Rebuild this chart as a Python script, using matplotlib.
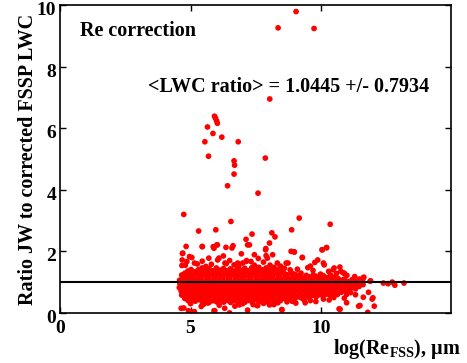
import matplotlib
matplotlib.use("Agg")
import matplotlib.pyplot as plt
import matplotlib.transforms as mtransforms
import numpy as np

plt.rcParams["font.family"] = ["Liberation Serif", "DejaVu Serif"]
plt.rcParams["font.weight"] = "bold"
plt.rcParams["mathtext.fontset"] = "custom"
plt.rcParams["mathtext.rm"] = "Liberation Serif:bold"
plt.rcParams["mathtext.it"] = "Liberation Serif:italic:bold"

# ---------------- data: log(Re_FSS) vs LWC ratio ----------------
# dense band, left part (x ~ 4.5 - 6.5)
core_left_x = [
    4.57, 4.59, 4.58,
    4.66, 4.64, 4.67, 4.65, 4.68, 4.66,
    4.78, 4.80, 4.77, 4.79, 4.76, 4.81, 4.78,
    4.91, 4.93, 4.90, 4.92, 4.89, 4.94, 4.91, 4.90,
    5.04, 5.02, 5.06, 5.03, 5.05, 5.04, 5.07, 5.02,
    5.18, 5.16, 5.19, 5.17, 5.20, 5.18, 5.15, 5.19,
    5.31, 5.33, 5.30, 5.32, 5.29, 5.34, 5.31, 5.30,
    5.45, 5.43, 5.46, 5.44, 5.47, 5.45, 5.42, 5.46, 5.44,
    5.59, 5.61, 5.58, 5.60, 5.57, 5.62, 5.59, 5.58,
    5.72, 5.70, 5.74, 5.71, 5.73, 5.72, 5.69, 5.74, 5.71,
    5.86, 5.88, 5.85, 5.87, 5.84, 5.89, 5.86, 5.85,
    6.00, 5.98, 6.02, 5.99, 6.01, 6.00, 5.97, 6.02, 5.99,
    6.13, 6.15, 6.12, 6.14, 6.11, 6.16, 6.13, 6.12,
    6.27, 6.25, 6.28, 6.26, 6.29, 6.27, 6.24, 6.28, 6.26,
    6.41, 6.43, 6.40, 6.42, 6.39, 6.44, 6.41, 6.40,
]
core_left_y = [
    0.82, 0.95, 1.06,
    0.58, 0.71, 0.84, 0.97, 1.10, 1.23,
    0.47, 0.62, 0.76, 0.89, 1.02, 1.15, 1.29,
    0.40, 0.54, 0.68, 0.81, 0.95, 1.08, 1.21, 1.36,
    0.45, 0.60, 0.74, 0.87, 1.00, 1.14, 1.27, 1.41,
    0.38, 0.52, 0.66, 0.80, 0.93, 1.06, 1.20, 1.34,
    0.43, 0.57, 0.71, 0.85, 0.98, 1.12, 1.26, 1.40,
    0.36, 0.50, 0.64, 0.78, 0.91, 1.04, 1.18, 1.32, 1.46,
    0.41, 0.55, 0.69, 0.83, 0.96, 1.10, 1.24, 1.38,
    0.35, 0.49, 0.62, 0.76, 0.90, 1.03, 1.17, 1.31, 1.44,
    0.40, 0.54, 0.68, 0.82, 0.95, 1.09, 1.23, 1.37,
    0.36, 0.50, 0.63, 0.77, 0.91, 1.04, 1.18, 1.32, 1.46,
    0.42, 0.56, 0.70, 0.84, 0.97, 1.11, 1.25, 1.39,
    0.35, 0.48, 0.62, 0.76, 0.89, 1.03, 1.16, 1.30, 1.44,
    0.41, 0.55, 0.69, 0.82, 0.96, 1.10, 1.23, 1.37,
]

# dense band, middle part (x ~ 6.5 - 8.5)
core_mid_x = [
    6.54, 6.52, 6.56, 6.53, 6.55, 6.54, 6.51, 6.56, 6.53,
    6.68, 6.70, 6.67, 6.69, 6.66, 6.71, 6.68, 6.67,
    6.82, 6.80, 6.83, 6.81, 6.84, 6.82, 6.79, 6.83, 6.81,
    6.95, 6.97, 6.94, 6.96, 6.93, 6.98, 6.95, 6.94,
    7.09, 7.07, 7.11, 7.08, 7.10, 7.09, 7.06, 7.11, 7.08,
    7.22, 7.24, 7.21, 7.23, 7.20, 7.25, 7.22, 7.21,
    7.36, 7.34, 7.37, 7.35, 7.38, 7.36, 7.33, 7.37, 7.35,
    7.50, 7.52, 7.49, 7.51, 7.48, 7.53, 7.50, 7.49,
    7.63, 7.61, 7.65, 7.62, 7.64, 7.63, 7.60, 7.65, 7.62,
    7.77, 7.79, 7.76, 7.78, 7.75, 7.80, 7.77, 7.76,
    7.91, 7.89, 7.92, 7.90, 7.93, 7.91, 7.88, 7.92, 7.90,
    8.04, 8.06, 8.03, 8.05, 8.02, 8.07, 8.04, 8.03,
    8.18, 8.16, 8.20, 8.17, 8.19, 8.18, 8.15, 8.20,
    8.32, 8.34, 8.31, 8.33, 8.30, 8.35, 8.32, 8.31,
    8.45, 8.43, 8.47, 8.44, 8.46, 8.45, 8.42, 8.47,
]
core_mid_y = [
    0.34, 0.48, 0.62, 0.75, 0.89, 1.02, 1.16, 1.30, 1.43,
    0.40, 0.54, 0.68, 0.81, 0.95, 1.09, 1.22, 1.36,
    0.36, 0.49, 0.63, 0.77, 0.90, 1.04, 1.17, 1.31, 1.45,
    0.42, 0.56, 0.70, 0.83, 0.97, 1.11, 1.24, 1.38,
    0.35, 0.49, 0.62, 0.76, 0.90, 1.03, 1.17, 1.31, 1.45,
    0.41, 0.55, 0.69, 0.82, 0.96, 1.10, 1.23, 1.37,
    0.36, 0.50, 0.63, 0.77, 0.91, 1.04, 1.18, 1.32, 1.47,
    0.43, 0.57, 0.70, 0.84, 0.98, 1.11, 1.25, 1.39,
    0.37, 0.50, 0.64, 0.78, 0.91, 1.05, 1.19, 1.33, 1.48,
    0.42, 0.56, 0.70, 0.84, 0.97, 1.11, 1.25, 1.40,
    0.36, 0.50, 0.64, 0.77, 0.91, 1.05, 1.18, 1.32, 1.46,
    0.43, 0.57, 0.71, 0.84, 0.98, 1.12, 1.26, 1.40,
    0.38, 0.52, 0.65, 0.79, 0.93, 1.06, 1.20, 1.34,
    0.45, 0.59, 0.72, 0.86, 1.00, 1.13, 1.27, 1.41,
    0.40, 0.54, 0.67, 0.81, 0.94, 1.08, 1.22, 1.35,
]

# dense band, right part (x ~ 8.5 - 11.7)
core_right_x = [
    8.59, 8.61, 8.58, 8.60, 8.57, 8.62, 8.59,
    8.73, 8.71, 8.74, 8.72, 8.75, 8.73, 8.70,
    8.86, 8.88, 8.85, 8.87, 8.84, 8.89, 8.86,
    9.00, 8.98, 9.02, 8.99, 9.01, 9.00, 8.97,
    9.14, 9.16, 9.13, 9.15, 9.12, 9.17,
    9.27, 9.25, 9.28, 9.26, 9.29, 9.27, 9.24,
    9.41, 9.43, 9.40, 9.42, 9.39, 9.44,
    9.55, 9.53, 9.56, 9.54, 9.57, 9.55,
    9.68, 9.70, 9.67, 9.69, 9.66, 9.71,
    9.82, 9.80, 9.83, 9.81, 9.84, 9.82,
    9.96, 9.98, 9.95, 9.97, 9.94, 9.99,
    10.09, 10.07, 10.11, 10.08, 10.10, 10.09,
    10.23, 10.25, 10.22, 10.24, 10.21,
    10.37, 10.35, 10.38, 10.36, 10.39, 10.37,
    10.50, 10.52, 10.49, 10.51, 10.48,
    10.64, 10.62, 10.65, 10.63, 10.66,
    10.78, 10.80, 10.77, 10.79,
    10.91, 10.89, 10.93, 10.90,
    11.05, 11.07, 11.04,
    11.19, 11.17, 11.20,
    11.33, 11.35, 11.32,
    11.47, 11.45, 11.48,
    11.62, 11.60,
]
core_right_y = [
    0.47, 0.61, 0.74, 0.88, 1.01, 1.15, 1.29,
    0.43, 0.56, 0.70, 0.83, 0.97, 1.10, 1.24,
    0.50, 0.64, 0.77, 0.91, 1.04, 1.18, 1.32,
    0.46, 0.59, 0.73, 0.86, 1.00, 1.13, 1.26,
    0.52, 0.66, 0.79, 0.93, 1.06, 1.20,
    0.48, 0.61, 0.75, 0.88, 1.02, 1.15, 1.29,
    0.55, 0.68, 0.82, 0.95, 1.09, 1.22,
    0.50, 0.63, 0.77, 0.90, 1.03, 1.17,
    0.57, 0.70, 0.84, 0.97, 1.11, 1.24,
    0.52, 0.66, 0.79, 0.92, 1.06, 1.19,
    0.59, 0.72, 0.86, 0.99, 1.12, 1.26,
    0.55, 0.68, 0.81, 0.95, 1.08, 1.21,
    0.61, 0.75, 0.88, 1.01, 1.15,
    0.57, 0.70, 0.84, 0.97, 1.10, 1.23,
    0.64, 0.77, 0.90, 1.03, 1.16,
    0.60, 0.73, 0.86, 0.99, 1.12,
    0.67, 0.80, 0.93, 1.06,
    0.71, 0.84, 0.97, 1.10,
    0.76, 0.89, 1.02,
    0.82, 0.95, 1.08,
    0.78, 0.91, 1.03,
    0.86, 0.98, 1.10,
    0.92, 1.04,
]

# scattered points above the band
upper_x = [4.70, 4.68, 5.05, 4.86, 4.67, 5.26, 5.59, 6.04, 6.26, 6.32,
           6.67, 7.00, 7.32, 7.60, 7.95, 8.15, 8.33, 8.74, 8.82, 8.98,
           9.29, 9.50, 9.88, 10.05, 10.22, 10.10, 10.47, 10.73, 10.86, 11.63,
           11.89, 4.80, 5.15, 5.45, 5.80, 6.50, 6.85, 7.15, 7.45, 7.80,
           8.05, 8.45, 8.60, 9.10, 9.70, 10.30, 10.60, 11.00, 11.30, 7.88,
           8.03, 6.95, 5.70, 4.83, 5.45, 6.03, 5.90, 6.63, 4.96, 6.37,
           6.09, 7.19, 7.45, 7.90, 6.81, 7.13, 8.67, 8.86, 9.77, 10.13,
           9.04, 10.51, 10.77, 10.90, 9.60, 8.20]
upper_y = [1.94, 1.72, 1.80, 1.67, 1.54, 1.59, 1.51, 1.72, 1.85, 1.62,
           1.56, 1.62, 1.67, 1.77, 1.78, 1.89, 1.62, 1.62, 1.40, 1.98,
           1.80, 1.47, 1.72, 2.05, 2.12, 1.62, 1.40, 1.49, 1.30, 1.14,
           1.03, 1.55, 1.62, 1.68, 1.58, 1.70, 1.52, 1.70, 1.55, 1.65,
           1.55, 1.52, 1.45, 1.42, 1.38, 1.35, 1.28, 1.22, 1.18, 2.05,
           2.27, 1.92, 1.78, 2.16, 2.16, 2.21, 2.10, 2.18, 1.83, 1.60,
           1.78, 2.21, 1.89, 1.86, 1.62, 1.67, 1.62, 2.00, 1.64, 1.56,
           1.24, 1.46, 1.35, 1.29, 1.52, 1.48]

# scattered points below the band
lower_x = [4.74, 5.05, 5.93, 6.50, 7.19, 7.40, 7.55, 8.20, 8.50, 8.90,
           9.40, 10.70, 10.99, 11.45, 11.80, 12.05, 12.00, 11.83, 11.63, 10.99,
           11.33, 11.14, 11.97, 11.50, 4.92, 5.15, 5.41, 5.90, 6.31, 5.67,
           4.64, 6.87, 7.58, 8.03, 8.51, 10.74, 10.32, 10.90, 9.81, 9.36,
           9.04, 5.00, 5.50, 6.10, 6.70, 7.00, 7.80, 8.35, 8.70, 9.60,
           10.10, 10.50]
lower_y = [0.16, 0.03, 0.07, 0.00, 0.09, 0.27, 0.24, 0.27, 0.11, 0.38,
           0.33, 0.13, 0.33, 0.22, 0.02, 0.22, 0.49, 0.67, 0.51, 0.60,
           0.59, 0.66, 0.45, 0.24, 0.07, 0.04, 0.21, 0.07, 0.15, 0.32,
           0.15, 0.26, 0.24, 0.26, 0.10, 0.12, 0.42, 0.48, 0.37, 0.42,
           0.32, 0.30, 0.28, 0.25, 0.22, 0.30, 0.31, 0.33, 0.36, 0.40,
           0.45, 0.50]

# points past x = 12 near the unity line
tail_x = [11.65, 11.91, 11.18, 12.40, 12.58, 12.74, 12.84, 13.19]
tail_y = [1.16, 1.04, 1.02, 0.97, 0.95, 1.00, 0.90, 0.97]

# large-ratio outliers
outlier_x = [9.05, 8.36, 9.74, 8.04, 5.92, 5.96, 6.00, 6.03, 5.65, 5.86,
             6.20, 5.55, 6.83, 5.69, 7.87, 6.67, 6.69, 6.67, 6.42, 7.59,
             4.74, 9.17, 10.36, 6.55, 5.31, 5.97, 8.88, 8.12, 8.24, 7.36,
             7.13, 7.26, 5.45, 5.87, 6.01, 6.36, 6.59, 7.89, 8.98, 10.05,
             10.22, 9.29, 4.69]
outlier_y = [9.79, 9.26, 9.24, 6.95, 6.39, 6.32, 6.24, 6.16, 6.04, 5.83,
             5.71, 5.56, 5.56, 5.09, 5.03, 4.94, 4.80, 4.51, 4.13, 3.89,
             3.20, 3.08, 2.88, 2.97, 2.66, 2.70, 2.70, 2.60, 2.47, 2.56,
             2.39, 2.21, 2.15, 2.15, 2.21, 2.13, 2.11, 2.09, 1.98, 2.05,
             2.12, 1.80, 1.93]

x_all = np.concatenate([core_left_x, core_mid_x, core_right_x,
                        upper_x, lower_x, tail_x, outlier_x])
y_all = np.concatenate([core_left_y, core_mid_y, core_right_y,
                        upper_y, lower_y, tail_y, outlier_y])

mean_ratio = 1.0445
std_ratio = 0.7934

# ---------------- figure ----------------
fig = plt.figure(figsize=(4.67, 3.63), dpi=100)
ax = fig.add_axes([0.129, 0.138, 0.837, 0.848])

ax.scatter(x_all, y_all, s=17, color="#ff0000", edgecolors="none", zorder=2)
ax.axhline(1.0, color="black", linewidth=1.5, zorder=3)

ax.set_xlim(0, 15)
ax.set_ylim(0, 10)
ax.set_xticks([0, 5, 10])
ax.set_yticks([0, 2, 4, 6, 8, 10])
ax.tick_params(direction="in", length=4, width=1, top=True, right=True,
               labelsize=14)
ax.tick_params(axis="x", pad=5)
ax.tick_params(axis="y", pad=3)
for lab in ax.get_xticklabels() + ax.get_yticklabels():
    lab.set_fontweight("bold")
# nudge y tick labels down a little so "10" stays inside the figure
shift = mtransforms.ScaledTranslation(0, -2.5 / 72, fig.dpi_scale_trans)
for lab in ax.get_yticklabels():
    lab.set_transform(lab.get_transform() + shift)
for sp in ax.spines.values():
    sp.set_linewidth(1.2)

ax.set_ylabel("Ratio JW to corrected FSSP LWC", fontsize=14.5, fontweight="bold",
              labelpad=-1)
ax.text(1.025, -0.118, "log(Re$_{\\rm FSS}$), μm", transform=ax.transAxes,
        fontsize=14.5, fontweight="bold", ha="right", va="center")

ax.text(0.75, 9.15, "Re correction", fontsize=14.5, fontweight="bold",
        ha="left", va="center")
ax.text(3.35, 7.35, f"<LWC ratio> = {mean_ratio:.4f} +/- {std_ratio:.4f}",
        fontsize=14.5, fontweight="bold", ha="left", va="center")

fig.savefig("out.png", dpi=100)
